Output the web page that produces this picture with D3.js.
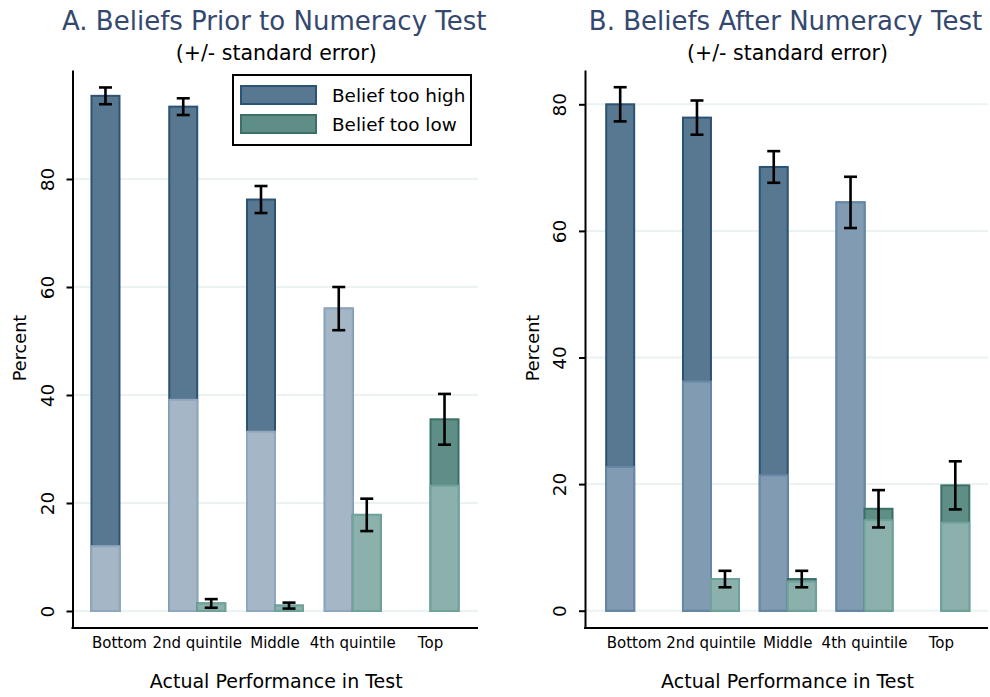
<!DOCTYPE html>
<html><head><meta charset="utf-8">
<script src="https://cdn.jsdelivr.net/npm/d3@7"></script>
<style>body{margin:0;background:#fff}svg{display:block}text{font-family:"DejaVu Sans",sans-serif}</style>
</head><body><svg id="c" width="990" height="697"></svg>
<script>
// ---- data ----
const categories = ["Bottom", "2nd quintile", "Middle", "4th quintile", "Top"];
const yTicks = [0, 20, 40, 60, 80];
const seriesNames = ["Belief too high", "Belief too low"];

// Panel A: beliefs prior to test
const priorHigh     = [95.4, 93.4, 76.2, 56.0, null];
const priorHighSE   = [1.55, 1.55, 2.5, 4.0, null];
const priorHighNear = [12.0, 39.1, 33.2, 56.0, null];
const priorLow      = [null, 1.4, 1.0, 17.8, 35.5];
const priorLowSE    = [null, 0.8, 0.55, 3.0, 4.7];
const priorLowNear  = [null, 1.4, 1.0, 17.8, 23.2];

// Panel B: beliefs after test
const afterHigh     = [80.0, 77.9, 70.1, 64.5, null];
const afterHighSE   = [2.7, 2.7, 2.5, 4.05, null];
const afterHighNear = [22.7, 36.2, 21.4, 64.5, null];
const afterLow      = [null, 5.0, 5.0, 16.1, 19.8];
const afterLowSE    = [null, 1.3, 1.3, 2.95, 3.8];
const afterLowNear  = [null, 5.0, 4.6, 14.3, 13.9];

// ---- drawing ----
const svg = d3.select("#c");
const C = {
  darkBlue: "#587791", darkBlueS: "#2b5374",
  darkGreen: "#5f8e86", darkGreenS: "#3a7066",
  lightGreen: "#8cb1ad", lightGreenS: "#6fa29b",
  grid: "#eaf2f2", title: "#34486f"
};

const panels = [
  { title: "A. Beliefs Prior to Numeracy Test", high: priorHigh, highSE: priorHighSE, highNear: priorHighNear,
    low: priorLow, lowSE: priorLowSE, lowNear: priorLowNear,
    x0: 72.5, x1: 478, band: [80.6, 469.4], y0v: 611, yPer: 5.4,
    lightBlue: "#a5b6c7", lightBlueS: "#8fa7bd", legend: true, ylabX: 20 },
  { title: "B. Beliefs After Numeracy Test", high: afterHigh, highSE: afterHighSE, highNear: afterHighNear,
    low: afterLow, lowSE: afterLowSE, lowNear: afterLowNear,
    x0: 585, x1: 988, band: [595.8, 979.7], y0v: 610.7, yPer: 6.33,
    lightBlue: "#819cb2", lightBlueS: "#6688a6", legend: false, ylabX: 533 }
];

const yTop = 70, yBot = 628;

panels.forEach(p => {
  const g = svg.append("g");
  const y = d3.scaleLinear()
    .domain([(p.y0v - yBot) / p.yPer, (p.y0v - yTop) / p.yPer])
    .range([yBot, yTop]);
  const x = d3.scaleBand().domain(categories).range(p.band).padding(0);
  const cx = c => x(c) + x.bandwidth() / 2;
  const bw = 28;

  // gridlines
  g.selectAll("line.grid").data(yTicks).join("line")
    .attr("x1", p.x0).attr("x2", p.x1)
    .attr("y1", d => y(d)).attr("y2", d => y(d))
    .attr("stroke", C.grid).attr("stroke-width", 2);

  const rows = categories.map((c, i) => ({
    c, high: p.high[i], highSE: p.highSE[i], highNear: p.highNear[i],
    low: p.low[i], lowSE: p.lowSE[i], lowNear: p.lowNear[i]
  }));

  const bar = (sel, key, xoff, fill, stroke) =>
    sel.selectAll(null).data(rows.filter(r => r[key] != null)).join("rect")
      .attr("x", r => cx(r.c) + xoff).attr("width", bw)
      .attr("y", r => y(r[key])).attr("height", r => y(0) - y(r[key]))
      .attr("fill", fill).attr("stroke", stroke).attr("stroke-width", 2);

  bar(g, "high", -bw, C.darkBlue, C.darkBlueS);
  bar(g, "highNear", -bw, p.lightBlue, p.lightBlueS);
  bar(g, "low", 0, C.darkGreen, C.darkGreenS);
  bar(g, "lowNear", 0, C.lightGreen, C.lightGreenS);

  // error bars
  const err = [];
  rows.forEach(r => {
    if (r.high != null) err.push({ x: cx(r.c) - bw / 2, v: r.high, se: r.highSE });
    if (r.low != null) err.push({ x: cx(r.c) + bw / 2, v: r.low, se: r.lowSE });
  });
  const eg = g.selectAll("g.err").data(err).join("g").attr("stroke", "#000").attr("stroke-width", 2.6);
  eg.append("line").attr("x1", d => d.x).attr("x2", d => d.x)
    .attr("y1", d => y(d.v + d.se)).attr("y2", d => y(d.v - d.se));
  eg.append("line").attr("x1", d => d.x - 6.5).attr("x2", d => d.x + 6.5)
    .attr("y1", d => y(d.v + d.se)).attr("y2", d => y(d.v + d.se));
  eg.append("line").attr("x1", d => d.x - 6.5).attr("x2", d => d.x + 6.5)
    .attr("y1", d => y(d.v - d.se)).attr("y2", d => y(d.v - d.se));

  // y axis
  const ax = g.append("g").attr("transform", `translate(${p.x0},0)`)
    .call(d3.axisLeft(y).tickValues(yTicks).tickSize(6).tickSizeOuter(0));
  ax.select(".domain").attr("stroke-width", 2);
  ax.selectAll(".tick line").attr("stroke-width", 2);
  ax.selectAll(".tick text")
    .attr("x", 0).attr("dy", 0).attr("y", 0)
    .attr("text-anchor", "middle")
    .attr("transform", "translate(-19,0) rotate(-90)")
    .attr("font-size", 18.5).attr("font-family", "DejaVu Sans").attr("fill", "#000");

  // x axis line
  g.append("line").attr("x1", p.x0 - 1).attr("x2", p.x1)
    .attr("y1", yBot).attr("y2", yBot).attr("stroke", "#000").attr("stroke-width", 2);

  g.selectAll("text.cat").data(categories).join("text")
    .attr("x", d => cx(d)).attr("y", 648).attr("text-anchor", "middle")
    .attr("font-size", 15).text(d => d);

  const midX = (p.x0 + p.x1) / 2;
  g.append("text").attr("x", midX + 1).attr("y", 688).attr("text-anchor", "middle")
    .attr("font-size", 19).text("Actual Performance in Test");

  g.append("text").attr("transform", `translate(${p.ylabX + 6},348) rotate(-90)`)
    .attr("text-anchor", "middle").attr("font-size", 17.7).text("Percent");

  g.append("text").attr("x", midX - 1).attr("y", 30).attr("text-anchor", "middle")
    .attr("font-size", 26).attr("fill", C.title).text(p.title);
  g.append("text").attr("x", midX + 1).attr("y", 60).attr("text-anchor", "middle")
    .attr("font-size", 20.5).attr("fill", "#000").text("(+/- standard error)");

  if (p.legend) {
    const lg = g.append("g");
    lg.append("rect").attr("x", 233).attr("y", 75).attr("width", 238).attr("height", 70)
      .attr("fill", "#fff").attr("stroke", "#000").attr("stroke-width", 2);
    const sw = [[C.darkBlue, C.darkBlueS], [C.darkGreen, C.darkGreenS]];
    seriesNames.forEach((n, i) => {
      lg.append("rect").attr("x", 241).attr("y", 86 + i * 29).attr("width", 75).attr("height", 18)
        .attr("fill", sw[i][0]).attr("stroke", sw[i][1]).attr("stroke-width", 2);
      lg.append("text").attr("x", 332).attr("y", 102 + i * 29).attr("font-size", 18.4).text(n);
    });
  }
});
</script></body></html>
